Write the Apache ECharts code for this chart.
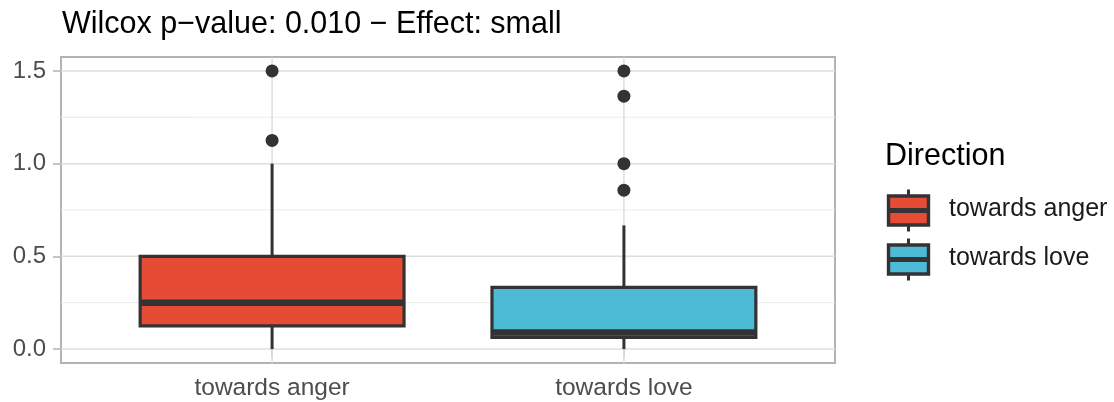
<!DOCTYPE html>
<html>
<head>
<meta charset="utf-8">
<script src="https://cdn.jsdelivr.net/npm/echarts@6/dist/echarts.min.js"></script>
<style>html,body{margin:0;padding:0;background:#fff;}#chart{width:1114px;height:402px;}</style>
</head>
<body>
<div id="chart"></div>
<script>
// ---- data ----
const categories = ['towards anger', 'towards love'];
const boxMin    = [0.0, 0.0];
const boxQ1     = [0.125, 0.0625];
const boxMedian = [0.25, 0.09];
const boxQ3     = [0.5, 0.333];
const boxMax    = [1.0, 0.667];
const outliersAnger = [1.125, 1.5];
const outliersLove  = [0.857, 1.0, 1.364, 1.5];
const colors = ['#E64B35', '#4DBBD5'];
const yTickValues = [0, 0.5, 1.0, 1.5];
const yMinorValues = [0.25, 0.75, 1.25];
const titleText = 'Wilcox p\u2212value: 0.010 \u2212 Effect: small';
const legendTitle = 'Direction';

// ---- derived ----
const FONT = "'Liberation Sans', Arial, sans-serif";
const X_MIN = 0.4, X_MAX = 2.6, Y_MIN = -0.075, Y_MAX = 1.575;
const xPos = categories.map((c, i) => i + 1);
const boxData = categories.map((c, i) => [xPos[i], boxMin[i], boxQ1[i], boxMedian[i], boxQ3[i], boxMax[i], i]);
const outlierData = [];
outliersAnger.forEach(v => outlierData.push([xPos[0], v]));
outliersLove.forEach(v => outlierData.push([xPos[1], v]));
const gridData = [];
yMinorValues.forEach(v => gridData.push(['h', v, 1, '#ebebeb']));
yTickValues.forEach(v => gridData.push(['h', v, 1.5, '#dedede']));
xPos.forEach(v => gridData.push(['v', v, 1.5, '#dedede']));

const chart = echarts.init(document.getElementById('chart'), null, {renderer: 'canvas'});

// legend graphic
const legendGraphics = [{
  type: 'text', left: 885, top: 141,
  style: {text: legendTitle, font: '30.5px ' + FONT, fill: '#000'}
}];
const legendY = [208, 257];
categories.forEach((c, i) => {
  const cy = legendY[i];
  legendGraphics.push({
    type: 'group', left: 886, top: cy - 21,
    children: [
      {type: 'line', shape: {x1: 22, y1: 0, x2: 22, y2: 42}, style: {stroke: '#333', lineWidth: 3}},
      {type: 'rect', shape: {x: 2, y: 6.5, width: 40, height: 29}, style: {fill: colors[i], stroke: '#333', lineWidth: 3.4}},
      {type: 'line', shape: {x1: 2, y1: 21, x2: 42, y2: 21}, style: {stroke: '#333', lineWidth: 5}}
    ]
  });
  legendGraphics.push({
    type: 'text', left: 949, top: cy - 11,
    style: {text: c, font: '25px ' + FONT, fill: '#1a1a1a'}
  });
});

const option = {
  animation: false,
  backgroundColor: '#fff',
  title: {
    text: titleText, left: 57, top: 4,
    textStyle: {fontFamily: FONT, fontSize: 30.5, fontWeight: 'normal', color: '#000'}
  },
  grid: {left: 61, right: 279, top: 57, bottom: 39, show: true, borderColor: '#b3b3b3', borderWidth: 2, backgroundColor: 'transparent'},
  xAxis: {
    type: 'value', min: X_MIN, max: X_MAX,
    axisLine: {show: false},
    splitLine: {show: false},
    axisTick: {show: true, customValues: xPos, length: 8, lineStyle: {color: '#b3b3b3', width: 1.5}},
    axisLabel: {
      customValues: xPos, margin: 13,
      formatter: v => categories[Math.round(v) - 1] || '',
      fontFamily: FONT, fontSize: 24.5, color: '#4d4d4d'
    }
  },
  yAxis: {
    type: 'value', min: Y_MIN, max: Y_MAX,
    axisLine: {show: false},
    splitLine: {show: false},
    axisTick: {show: true, customValues: yTickValues, length: 8, lineStyle: {color: '#b3b3b3', width: 1.5}},
    axisLabel: {
      customValues: yTickValues, margin: 15,
      formatter: v => v.toFixed(1),
      fontFamily: FONT, fontSize: 24, color: '#4d4d4d'
    }
  },
  graphic: legendGraphics,
  series: [
    {
      type: 'custom', z: 1, silent: true, clip: true,
      data: gridData,
      encode: {x: 1, y: 1},
      renderItem: function (params, api) {
        const d = gridData[params.dataIndex];
        let p1, p2;
        if (d[0] === 'h') { p1 = api.coord([X_MIN, d[1]]); p2 = api.coord([X_MAX, d[1]]); }
        else { p1 = api.coord([d[1], Y_MIN]); p2 = api.coord([d[1], Y_MAX]); }
        return {type: 'line', shape: {x1: p1[0], y1: p1[1], x2: p2[0], y2: p2[1]}, style: {stroke: d[3], lineWidth: d[2]}};
      }
    },
    {
      type: 'custom', z: 2, silent: true,
      data: boxData,
      encode: {x: 0, y: [1, 5]},
      renderItem: function (params, api) {
        const x = api.value(0);
        const mn = api.value(1), q1 = api.value(2), md = api.value(3), q3 = api.value(4), mx = api.value(5);
        const ci = api.value(6);
        const hw = 0.375;
        const pMax = api.coord([x, mx]), pQ3 = api.coord([x, q3]), pMd = api.coord([x, md]);
        const pQ1 = api.coord([x, q1]), pMin = api.coord([x, mn]);
        const l = api.coord([x - hw, q3])[0], r = api.coord([x + hw, q3])[0];
        const stroke = '#333333';
        return {
          type: 'group',
          children: [
            {type: 'line', shape: {x1: pMax[0], y1: pMax[1], x2: pQ3[0], y2: pQ3[1]}, style: {stroke, lineWidth: 3}},
            {type: 'line', shape: {x1: pQ1[0], y1: pQ1[1], x2: pMin[0], y2: pMin[1]}, style: {stroke, lineWidth: 3}},
            {type: 'rect', shape: {x: l, y: pQ3[1], width: r - l, height: pQ1[1] - pQ3[1]}, style: {fill: colors[ci], stroke, lineWidth: 3.2}},
            {type: 'line', shape: {x1: l, y1: pMd[1], x2: r, y2: pMd[1]}, style: {stroke, lineWidth: 6.5}}
          ]
        };
      }
    },
    {
      type: 'scatter', z: 3, silent: true,
      data: outlierData,
      symbolSize: 13,
      itemStyle: {color: '#333333', opacity: 1}
    }
  ]
};
chart.setOption(option);
</script>
</body>
</html>
